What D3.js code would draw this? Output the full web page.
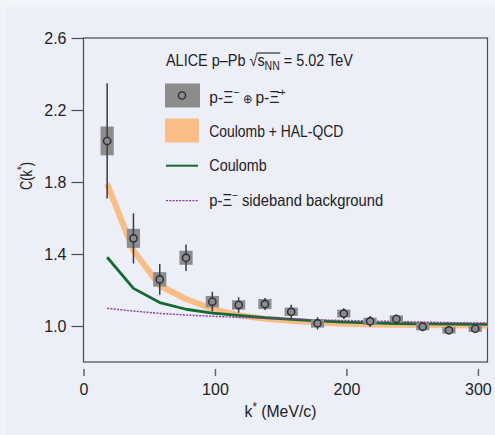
<!DOCTYPE html>
<html><head><meta charset="utf-8">
<script src="https://cdn.jsdelivr.net/npm/d3@7"></script>
<style>
html,body{margin:0;padding:0;background:#f3f4fa;}
svg{display:block;}
.tick text{font-family:"Liberation Sans",Arial,sans-serif;font-size:16px;fill:#222;}
.leg{font-family:"Liberation Sans",Arial,sans-serif;font-size:16.5px;fill:#222;}
</style></head>
<body>
<script>
// ---- data ----
const kStar   = [18, 38, 58, 78, 98, 118, 138, 158, 178, 198, 218, 238, 258, 278, 298];
const cVal    = [2.028, 1.487, 1.259, 1.379, 1.135, 1.117, 1.122, 1.079, 1.015, 1.069, 1.026, 1.039, 0.996, 0.976, 0.985];
const statErr = [0.32, 0.14, 0.086, 0.074, 0.055, 0.043, 0.033, 0.039, 0.034, 0.030, 0.030, 0.025, 0.025, 0.022, 0.022];
const sysErr  = [0.08, 0.053, 0.040, 0.039, 0.032, 0.026, 0.028, 0.023, 0.024, 0.022, 0.020, 0.020, 0.020, 0.018, 0.018];

const modelK    = [18, 38, 58, 78, 98, 118, 138, 158, 178, 198, 218, 238, 258, 278, 298, 318];
const coulHal   = [1.79, 1.42, 1.225, 1.15, 1.095, 1.06, 1.04, 1.029, 1.02, 1.013, 1.009, 1.007, 1.005, 1.004, 1.003, 1.002];
const coulomb   = [1.382, 1.209, 1.13, 1.093, 1.072, 1.059, 1.046, 1.037, 1.028, 1.021, 1.017, 1.014, 1.012, 1.010, 1.009, 1.008];
const sideband  = [1.098, 1.083, 1.07, 1.061, 1.054, 1.048, 1.042, 1.038, 1.034, 1.031, 1.028, 1.025, 1.022, 1.019, 1.017, 1.015];

const xTicks = [0, 100, 200, 300];
const yTicks = [1.0, 1.4, 1.8, 2.2, 2.6];

// ---- chart ----
const W = 495, H = 435;
const svg = d3.select("body").append("svg").attr("width", W).attr("height", H);
svg.append("rect").attr("x", 6).attr("y", 7).attr("width", W - 6).attr("height", H - 7).attr("fill", "#eceef8");

const x = d3.scaleLinear().domain([0, 307.3]).range([83.5, 487.5]);
const y = d3.scaleLinear().domain([0.8, 2.6]).range([362, 38]);

// squeeze a text horizontally (condensed look) to a target width, anchored at x0
function fit(group, textSel, x0, target) {
  const w = textSel.node().getComputedTextLength();
  const s = target / w;
  group.attr("transform", `translate(${x0},0) scale(${s},1) translate(${-x0},0)`);
}

svg.append("clipPath").attr("id", "clip").append("rect")
  .attr("x", x(0)).attr("y", y(2.6)).attr("width", x(307.3) - x(0)).attr("height", y(0.8) - y(2.6));

// axes
const yAxis = svg.append("g").attr("transform", `translate(${x(0)},0)`)
  .call(d3.axisLeft(y).tickValues(yTicks).tickFormat(d3.format(".1f")).tickSize(12).tickPadding(5));
yAxis.select(".domain").remove();
yAxis.selectAll(".tick line").attr("stroke", "#4a4a55").attr("stroke-width", 1.2);

const xAxis = svg.append("g").attr("transform", `translate(0,369)`)
  .call(d3.axisBottom(x).tickValues(xTicks).tickFormat(d3.format("d")).tickSize(7).tickPadding(8));
xAxis.select(".domain").remove();
xAxis.selectAll(".tick line").attr("stroke", "#666").attr("stroke-width", 1.5);

// frame
svg.append("rect").attr("x", x(0)).attr("y", y(2.6))
  .attr("width", x(307.3) - x(0)).attr("height", y(0.8) - y(2.6))
  .attr("fill", "none").attr("stroke", "#4a4a55").attr("stroke-width", 1.2);

// titles
{
  const gx = svg.append("g");
  const axT = gx.append("text").attr("x", 244.5).attr("y", 417).attr("class", "leg");
  axT.append("tspan").text("k");
  axT.append("tspan").text("*").attr("dy", -6).attr("font-size", 12);
  axT.append("tspan").text(" (MeV/c)").attr("dy", 6);
  fit(gx, axT, 244.5, 72);
}
{
  const gy = svg.append("g").attr("transform", "translate(32,190) rotate(-90)");
  const gi = gy.append("g");
  const ayT = gi.append("text").attr("x", 0).attr("y", 0).attr("class", "leg");
  ayT.append("tspan").text("C(k");
  ayT.append("tspan").text("*").attr("dy", -6).attr("font-size", 12);
  ayT.append("tspan").text(")").attr("dy", 6);
  fit(gi, ayT, 0, 28);
}

// plot content
const plot = svg.append("g").attr("clip-path", "url(#clip)");
const line = d3.line().x((d, i) => x(modelK[i])).y(d => y(d));

plot.append("path").datum(coulHal).attr("d", line)
  .attr("fill", "none").attr("stroke", "#f9bd86").attr("stroke-width", 6).attr("stroke-linejoin", "round");
plot.append("path").datum(coulomb).attr("d", line)
  .attr("fill", "none").attr("stroke", "#166b30").attr("stroke-width", 2.8).attr("stroke-linejoin", "round");
plot.append("path").datum(sideband).attr("d", line)
  .attr("fill", "none").attr("stroke", "#8a35b0").attr("stroke-width", 1.4).attr("stroke-dasharray", "2,1.3");

const pts = kStar.map((k, i) => ({k, c: cVal[i], s: statErr[i], y: sysErr[i]}));
const g = plot.selectAll("g.pt").data(pts).join("g").attr("class", "pt");
g.append("rect")
  .attr("x", d => x(d.k - 5)).attr("width", d => x(d.k + 5) - x(d.k - 5))
  .attr("y", d => y(d.c + d.y)).attr("height", d => y(d.c - d.y) - y(d.c + d.y))
  .attr("fill", "#8c8c8c");
g.append("line")
  .attr("x1", d => x(d.k)).attr("x2", d => x(d.k))
  .attr("y1", d => y(d.c + d.s)).attr("y2", d => y(d.c - d.s))
  .attr("stroke", "#3a3a48").attr("stroke-width", 1.5);
g.append("circle").attr("cx", d => x(d.k)).attr("cy", d => y(d.c)).attr("r", 3.6)
  .attr("fill", "#8c8c8c").attr("stroke", "#2a2a38").attr("stroke-width", 1.4);

// legend
const lx = 209.3;
{
  const g0 = svg.append("g");
  const t0 = g0.append("text").attr("class", "leg").attr("x", 166).attr("y", 66.5);
  t0.append("tspan").text("ALICE p\u2013Pb \u221A");
  t0.append("tspan").text("s");
  t0.append("tspan").text("NN").attr("font-size", 12).attr("dy", 4);
  t0.append("tspan").text(" = 5.02 TeV").attr("dy", -4);
  const n = t0.node();
  const r = n.getExtentOfChar(11), b = n.getExtentOfChar(14);
  g0.append("line").attr("x1", r.x + r.width - 1).attr("x2", b.x + b.width + 0.5)
    .attr("y1", r.y + 1.5).attr("y2", r.y + 1.5).attr("stroke", "#222").attr("stroke-width", 1.1);
  fit(g0, t0, 166, 187);
}

svg.append("rect").attr("x", 165).attr("y", 83.5).attr("width", 35).attr("height", 24).attr("fill", "#8c8c8c");
svg.append("circle").attr("cx", 182).attr("cy", 95.5).attr("r", 3.6)
  .attr("fill", "#8c8c8c").attr("stroke", "#2a2a38").attr("stroke-width", 1.4);
{
  const g1 = svg.append("g");
  const t1 = g1.append("text").attr("class", "leg").attr("x", lx).attr("y", 103.5);
  t1.append("tspan").text("p-\u039E");
  t1.append("tspan").text("\u2212").attr("font-size", 11).attr("dy", -7);
  t1.append("tspan").text(" \u2295 ").attr("font-size", 12).attr("dy", 7);
  t1.append("tspan").text("p-\u039E\u0304");
  t1.append("tspan").text("+").attr("font-size", 11).attr("dy", -7);
  fit(g1, t1, lx, 76);
}

svg.append("rect").attr("x", 165).attr("y", 118.5).attr("width", 34).attr("height", 24).attr("fill", "#f9bd86");
{
  const g2 = svg.append("g");
  const t2 = g2.append("text").attr("class", "leg").attr("x", lx).attr("y", 136.8).text("Coulomb + HAL-QCD");
  fit(g2, t2, lx, 134);
}

svg.append("line").attr("x1", 166).attr("x2", 198).attr("y1", 165.7).attr("y2", 165.7)
  .attr("stroke", "#166b30").attr("stroke-width", 2);
{
  const g3 = svg.append("g");
  const t3 = g3.append("text").attr("class", "leg").attr("x", lx).attr("y", 170.8).text("Coulomb");
  fit(g3, t3, lx, 57.5);
}

svg.append("line").attr("x1", 166).attr("x2", 198).attr("y1", 200.7).attr("y2", 200.7)
  .attr("stroke", "#8a35b0").attr("stroke-width", 1.3).attr("stroke-dasharray", "2,1.3");
{
  const g4 = svg.append("g");
  const t4 = g4.append("text").attr("class", "leg").attr("x", lx).attr("y", 205.8);
  t4.append("tspan").text("p-\u039E");
  t4.append("tspan").text("\u2212").attr("font-size", 11).attr("dy", -7);
  t4.append("tspan").text(" sideband background").attr("dy", 7);
  fit(g4, t4, lx, 174);
}
</script>
</body></html>
